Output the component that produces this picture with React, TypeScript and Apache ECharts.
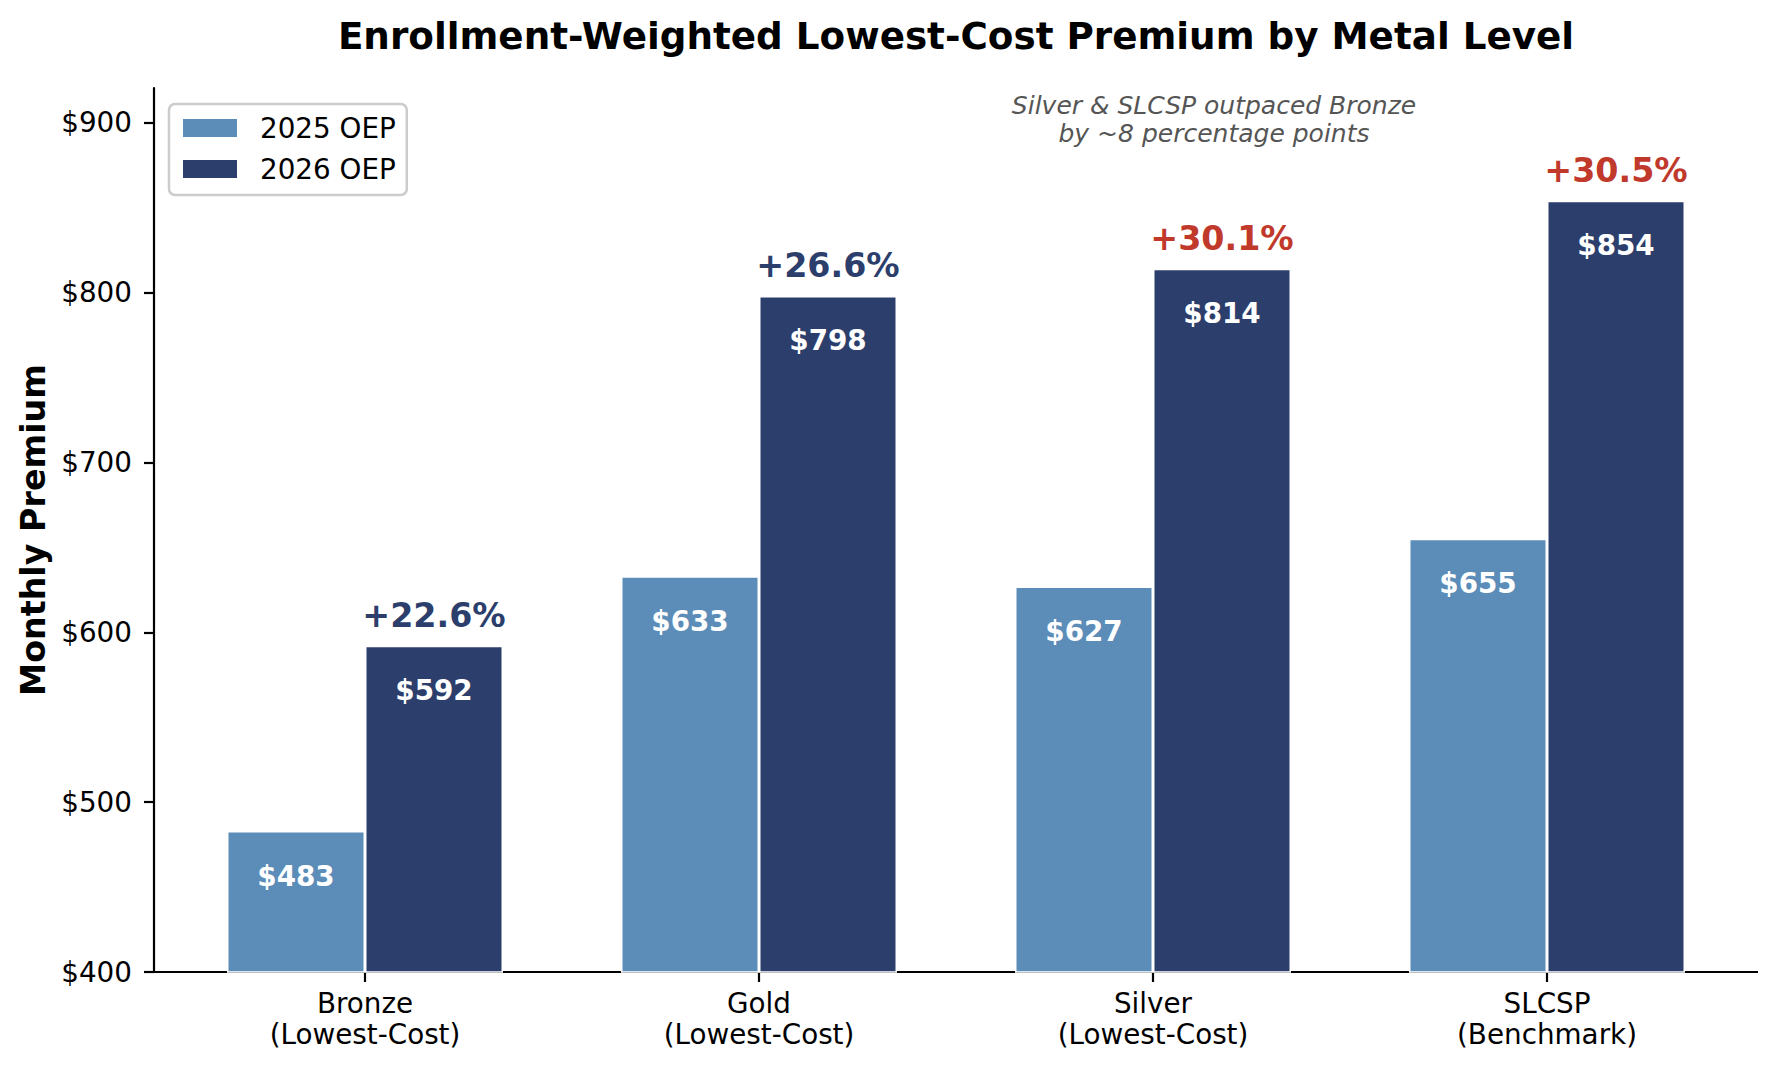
import React, { useEffect, useRef } from "react";
import * as echarts from "echarts";

const categories = ["Bronze\n(Lowest-Cost)", "Gold\n(Lowest-Cost)", "Silver\n(Lowest-Cost)", "SLCSP\n(Benchmark)"];
const seriesNames = ["2025 OEP", "2026 OEP"];
const premium2025 = [483, 633, 627, 655];
const premium2026 = [592, 798, 814, 854];
const changeLabels = ["+22.6%", "+26.6%", "+30.1%", "+30.5%"];
const outpaced = [false, false, true, true];
const yTicks = [400, 500, 600, 700, 800, 900];
const annotationText = "Silver & SLCSP outpaced Bronze\nby ~8 percentage points";

const FONT = "DejaVu Sans";
const C2025 = "#5b8db8";
const C2026 = "#2c3e6b";
const RED = "#c0392b";

export default function App() {
  const ref = useRef<HTMLDivElement>(null);
  useEffect(() => {
    document.body.style.margin = "0";
    const chart = echarts.init(ref.current!, null, { renderer: "svg" });
    const option: any = {
      animation: false,
      backgroundColor: "#ffffff",
      textStyle: { fontFamily: FONT },
      title: {
        text: "Enrollment-Weighted Lowest-Cost Premium by Metal Level",
        left: 956,
        top: 17,
        textAlign: "center",
        padding: 0,
        textStyle: { fontFamily: FONT, fontSize: 37.3, fontWeight: "bold", color: "#000", lineHeight: 37 },
      },
      legend: {
        orient: "vertical",
        left: 169,
        top: 104,
        padding: [10, 11, 12, 12],
        itemWidth: 56,
        itemHeight: 20,
        itemGap: 13,
        borderColor: "#cccccc",
        borderWidth: 2.5,
        borderRadius: 6,
        backgroundColor: "rgba(255,255,255,0.8)",
        icon: "rect",
        textStyle: { fontFamily: FONT, fontSize: 27.8, color: "#000", lineHeight: 28, padding: [0, 0, 0, 17] },
        data: seriesNames,
      },
      grid: { left: 168, right: 33, top: 88, bottom: 101 },
      xAxis: {
        type: "category",
        data: categories,
        axisLine: { show: false },
        axisTick: { show: true, alignWithLabel: true, length: 10, lineStyle: { color: "#000", width: 2.2 } },
        axisLabel: { fontFamily: FONT, fontSize: 27.8, lineHeight: 31, margin: 16, color: "#000" },
        splitLine: { show: false },
      },
      yAxis: {
        type: "value",
        min: yTicks[0],
        max: 920.4,
        interval: 100,
        offset: 14,
        name: "Monthly Premium",
        nameLocation: "middle",
        nameGap: 102,
        nameTextStyle: { fontFamily: FONT, fontSize: 33.3, fontWeight: "bold", color: "#000" },
        axisLine: { show: true, lineStyle: { color: "#000", width: 2.2 } },
        axisTick: { show: true, length: 10, lineStyle: { color: "#000", width: 2.2 } },
        axisLabel: {
          fontFamily: FONT,
          fontSize: 27.8,
          margin: 22,
          color: "#000",
          showMaxLabel: false,
          formatter: (v: number) => (yTicks.indexOf(v) >= 0 ? "$" + v : ""),
        },
        splitLine: { show: false },
      },
      series: [
        {
          name: seriesNames[0],
          type: "bar",
          data: premium2025,
          barWidth: 138,
          barGap: "0%",
          itemStyle: { color: C2025, borderColor: "#ffffff", borderWidth: 1.5 },
          label: {
            show: true,
            position: "insideTop",
            distance: 31,
            formatter: (p: any) => "$" + p.value,
            fontFamily: FONT,
            fontSize: 27.8,
            lineHeight: 28,
            fontWeight: "bold",
            color: "#ffffff",
          },
        },
        {
          name: seriesNames[1],
          type: "bar",
          data: premium2026,
          barWidth: 138,
          barGap: "0%",
          itemStyle: { color: C2026, borderColor: "#ffffff", borderWidth: 1.5 },
          label: {
            show: true,
            position: "insideTop",
            distance: 31,
            formatter: (p: any) => "$" + p.value,
            fontFamily: FONT,
            fontSize: 27.8,
            lineHeight: 28,
            fontWeight: "bold",
            color: "#ffffff",
          },
        },
        {
          name: "change",
          type: "custom",
          silent: true,
          data: premium2026.map((v, i) => [i, v]),
          encode: { x: 0, y: 1 },
          renderItem: (params: any, api: any) => {
            const i = api.value(0);
            const c = api.coord([i, api.value(1)]);
            const bw = api.size([1, 0])[0];
            return {
              type: "text",
              x: c[0] + bw * 0.175,
              y: c[1] - 30,
              style: {
                text: changeLabels[i],
                fill: outpaced[i] ? RED : C2026,
                fontFamily: FONT,
                fontSize: 33.3,
                fontWeight: "bold",
                align: "center",
                verticalAlign: "middle",
              },
            };
          },
        },
      ],
      graphic: [
        {
          type: "line",
          silent: true,
          shape: { x1: 154, y1: 972, x2: 1758, y2: 972 },
          style: { stroke: "#000", lineWidth: 2.2 },
        },
        {
          type: "text",
          silent: true,
          x: 1214,
          y: 119,
          style: {
            text: annotationText,
            fill: "#555555",
            fontFamily: FONT,
            fontSize: 25,
            fontStyle: "italic",
            lineHeight: 28,
            align: "center",
            verticalAlign: "middle",
          },
        },
      ],
    };
    chart.setOption(option);
    return () => chart.dispose();
  }, []);
  return <div ref={ref} style={{ width: "1777px", height: "1073px" }} />;
}
